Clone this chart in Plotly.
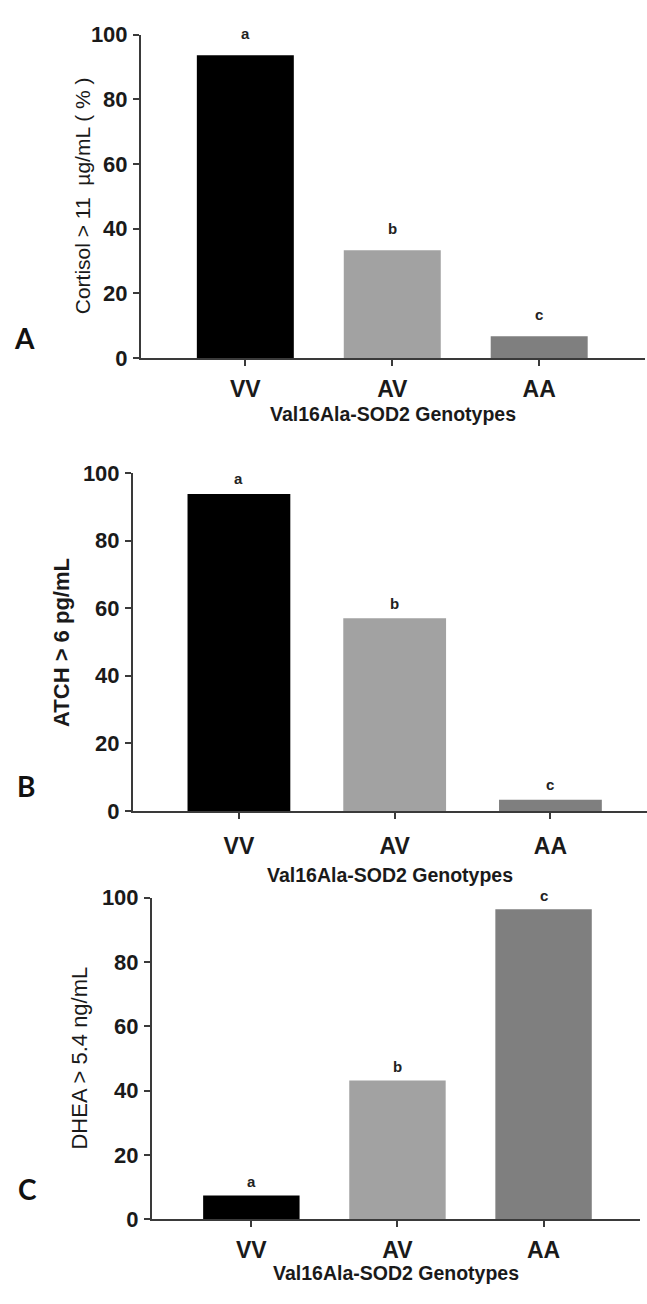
import plotly.graph_objects as go

categories = ["VV", "AV", "AA"]
cortisol = [93.6, 33.3, 6.7]
acth = [93.8, 57.0, 3.3]
dhea = [7.4, 43.2, 96.4]
sig_letters = ["a", "b", "c"]
bar_colors = ["#000000", "#a2a2a2", "#7f7f7f"]
y_ticks = [0, 20, 40, 60, 80, 100]
y_titles = ["Cortisol > 11  \u00b5g/mL ( % )", "ATCH > 6 pg/mL", "DHEA > 5.4 ng/mL"]
x_title = "Val16Ala-SOD2 Genotypes"
panel_labels = ["A", "B", "C"]

W, H = 647, 1304
FONT = "Liberation Sans, Arial, sans-serif"
AX = "#3a3a3a"

fig = go.Figure()

# panel geometry (pixels)
panels = [
    dict(vals=cortisol, x0=141, x1=645, ytop=23, ybot=352.7, xr=[-0.71, 2.72],
         letter_shift=22, ytitle_x=82, ytitle_bold=False, ytitle_size=21,
         cat_pad=3, xtitle_y=410, lab=(24, 332)),
    dict(vals=acth, x0=133, x1=647, ytop=470, ybot=814.5, xr=[-0.68, 2.62],
         letter_shift=15, ytitle_x=62, ytitle_bold=True, ytitle_size=22,
         cat_pad=8, xtitle_y=880, lab=(26, 789)),
    dict(vals=dhea, x0=152, x1=640, ytop=903, ybot=1231, xr=[-0.68, 2.66],
         letter_shift=14, ytitle_x=80, ytitle_bold=False, ytitle_size=22,
         cat_pad=3, xtitle_y=1286, lab=(27, 1200)),
]

annotations = []
for i, p in enumerate(panels):
    n = i + 1
    xa = "x" if n == 1 else f"x{n}"
    ya = "y" if n == 1 else f"y{n}"
    fig.add_trace(go.Bar(
        x=categories, y=p["vals"], xaxis=xa, yaxis=ya,
        marker=dict(color=bar_colors, line=dict(width=0)),
        width=0.66, showlegend=False, hoverinfo="x+y",
    ))
    xkey = "xaxis" if n == 1 else f"xaxis{n}"
    ykey = "yaxis" if n == 1 else f"yaxis{n}"
    fig.layout[xkey] = dict(
        domain=[p["x0"] / W, p["x1"] / W], anchor=ya, range=p["xr"],
        showline=True, linecolor=AX, linewidth=2, ticks="outside",
        ticklen=6, tickwidth=2, tickcolor=AX, showgrid=False, zeroline=False,
        tickfont=dict(family=FONT, size=23, color="#1a1a1a", weight="bold"),
        ticklabelstandoff=p["cat_pad"], fixedrange=True,
    )
    fig.layout[ykey] = dict(
        domain=[1 - p["ybot"] / H, 1 - p["ytop"] / H], anchor=xa, range=[0, 100],
        tickvals=y_ticks, showline=True, linecolor=AX, linewidth=2,
        ticks="outside", ticklen=6, tickwidth=2, tickcolor=AX,
        showgrid=False, zeroline=False,
        tickfont=dict(family=FONT, size=22, color="#1a1a1a", weight="bold"),
        ticklabelstandoff=1, fixedrange=True,
    )
    # significance letters
    for c, v, s in zip(categories, p["vals"], sig_letters):
        annotations.append(dict(
            x=c, y=v, xref=xa, yref=ya, text=s, showarrow=False,
            yanchor="middle", yshift=p["letter_shift"],
            font=dict(family=FONT, size=15, color="#222", weight="bold"),
        ))
    # y title
    annotations.append(dict(
        x=p["ytitle_x"] / W, y=1 - ((p["ytop"] + p["ybot"]) / 2) / H,
        xref="paper", yref="paper", text=y_titles[i], textangle=-90,
        showarrow=False, xanchor="center", yanchor="middle",
        font=dict(family=FONT, size=p["ytitle_size"], color="#1a1a1a",
                  weight="bold" if p["ytitle_bold"] else "normal"),
    ))
    # x title
    annotations.append(dict(
        x=((p["x0"] + p["x1"]) / 2) / W, y=1 - p["xtitle_y"] / H,
        xref="paper", yref="paper", text=x_title, showarrow=False,
        xanchor="center", yanchor="middle",
        font=dict(family=FONT, size=19.5, color="#1a1a1a", weight="bold"),
    ))
    # panel label
    annotations.append(dict(
        x=p["lab"][0] / W, y=1 - p["lab"][1] / H, xref="paper", yref="paper",
        text=panel_labels[i], showarrow=False, xanchor="center", yanchor="middle",
        font=dict(family="Lato, Open Sans, sans-serif", size=28, color="#111",
                  weight="bold"),
    ))

fig.update_layout(
    width=W, height=H, margin=dict(l=0, r=0, t=0, b=0),
    paper_bgcolor="white", plot_bgcolor="white",
    annotations=annotations, bargap=0.3,
)

fig.write_html("out.html")
